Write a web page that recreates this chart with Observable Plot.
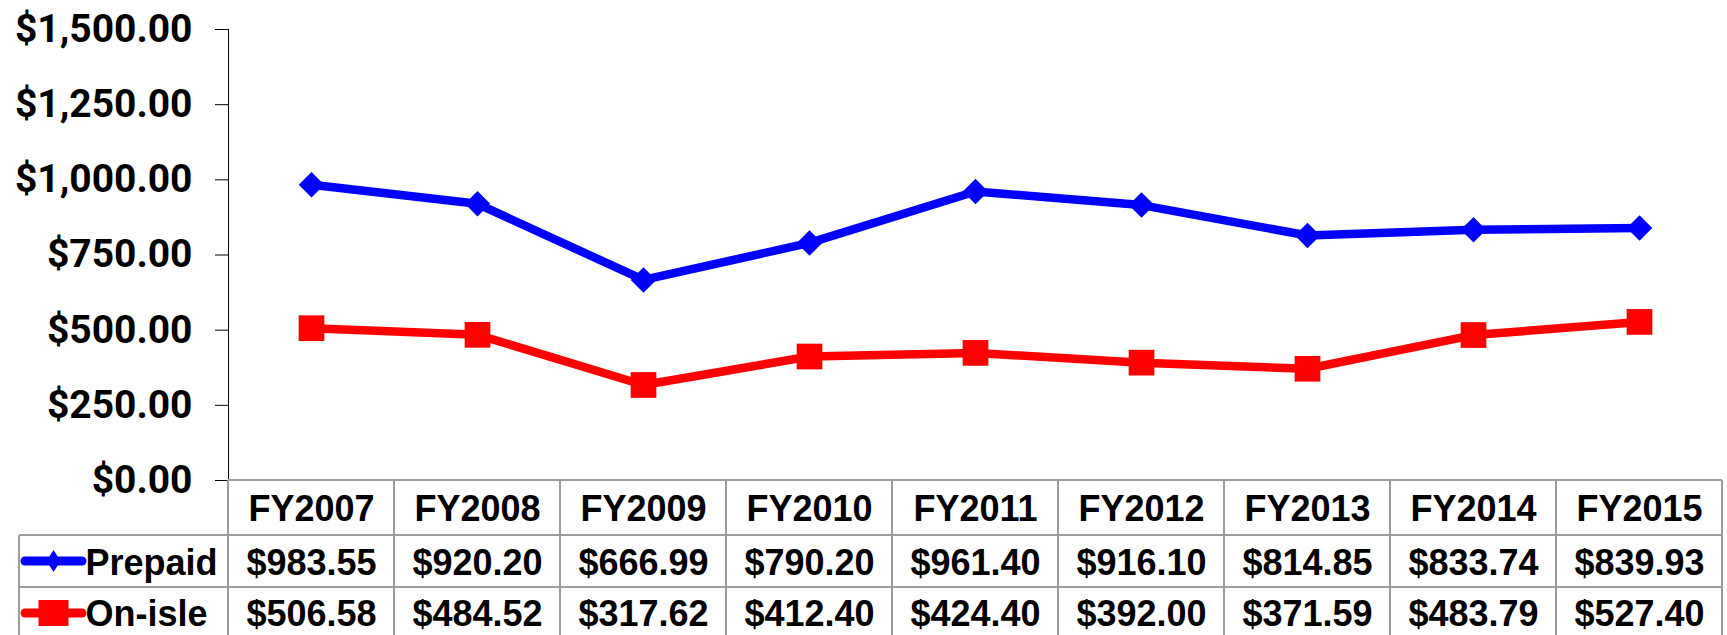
<!DOCTYPE html>
<html>
<head>
<meta charset="utf-8">
<script src="https://cdn.jsdelivr.net/npm/d3@7"></script>
<script src="https://cdn.jsdelivr.net/npm/@observablehq/plot@0.6"></script>
<style>
  html, body { margin: 0; padding: 0; background: #fff; }
  #chart svg g[aria-label^="y-axis"] text {
    font-family: Roboto, sans-serif !important;
    font-weight: 700 !important;
    font-size: 39px !important;
  }
</style>
</head>
<body>
<div id="chart"></div>
<script>
const years = ["FY2007", "FY2008", "FY2009", "FY2010", "FY2011", "FY2012", "FY2013", "FY2014", "FY2015"];
const seriesNames = ["Prepaid", "On-isle"];
const prepaid = [983.55, 920.20, 666.99, 790.20, 961.40, 916.10, 814.85, 833.74, 839.93];
const onIsle = [506.58, 484.52, 317.62, 412.40, 424.40, 392.00, 371.59, 483.79, 527.40];
const yTicks = [0, 250, 500, 750, 1000, 1250, 1500];
const colors = ["#0000ff", "#ff0000"];

const money = d3.format("$,.2f");
const prepaidRows = years.map((year, i) => ({year, value: prepaid[i]}));
const onIsleRows = years.map((year, i) => ({year, value: onIsle[i]}));

const gridColor = "#9c9c9c";
const tableFont = "Liberation Sans, Arial, sans-serif";
const rowH = [55, 52, 52];

// table grid + legend swatches, placed from the x scale
function tableGrid(index, scales, values, dims) {
  const x = scales.x;
  const centers = years.map(d => x(d));
  const half = (centers[1] - centers[0]) / 2;
  const edges = [centers[0] - half, ...centers.map(c => c + half)];
  const top = dims.height - dims.marginBottom;
  const rows = [top];
  rowH.forEach(h => rows.push(rows[rows.length - 1] + h));
  const left = 19;
  const right = edges[edges.length - 1];
  const g = d3.create("svg:g");
  const lines = g.append("g").attr("stroke", gridColor).attr("stroke-width", 2).attr("fill", "none");
  lines.append("line").attr("x1", edges[0]).attr("x2", right).attr("y1", rows[0]).attr("y2", rows[0]);
  for (let r = 1; r < rows.length; ++r) {
    lines.append("line").attr("x1", left).attr("x2", right).attr("y1", rows[r]).attr("y2", rows[r]);
  }
  edges.forEach(e => lines.append("line").attr("x1", e).attr("x2", e).attr("y1", rows[0]).attr("y2", rows[3]));
  lines.append("line").attr("x1", left).attr("x2", left).attr("y1", rows[1]).attr("y2", rows[3]);

  // legend swatches
  const sx0 = left + 6, sx1 = left + 63, scx = (sx0 + sx1) / 2;
  seriesNames.forEach((name, i) => {
    const cy = (rows[i + 1] + rows[i + 2]) / 2;
    g.append("line").attr("x1", sx0).attr("x2", sx1).attr("y1", cy).attr("y2", cy)
      .attr("stroke", colors[i]).attr("stroke-width", 9).attr("stroke-linecap", "round");
    if (i === 0) {
      g.append("path").attr("d", `M${scx},${cy - 11}L${scx + 7},${cy}L${scx},${cy + 11}L${scx - 7},${cy}Z`).attr("fill", colors[i]);
    } else {
      g.append("rect").attr("x", scx - 15).attr("y", cy - 13).attr("width", 30).attr("height", 26).attr("fill", colors[i]);
    }
  });
  return g.node();
}

const textCommon = {fontFamily: tableFont, fontWeight: "bold", fontSize: 36, fill: "black", lineAnchor: "middle"};

const plot = Plot.plot({
  width: 1727,
  height: 635,
  marginTop: 29,
  marginBottom: 155,
  marginLeft: 228,
  marginRight: 5,
  style: {fontFamily: "Roboto, sans-serif", fontSize: "39px", fontWeight: "bold", color: "black", background: "white"},
  x: {type: "point", domain: years, padding: 0.5, axis: null},
  y: {domain: [0, 1500], ticks: yTicks, tickFormat: money, tickSize: 13, tickPadding: 23, label: null, line: true},
  marks: [
    tableGrid,
    Plot.line(prepaidRows, {x: "year", y: "value", stroke: colors[0], strokeWidth: 8.5}),
    Plot.line(onIsleRows, {x: "year", y: "value", stroke: colors[1], strokeWidth: 8.5}),
    Plot.dot(prepaidRows, {x: "year", y: "value", symbol: "diamond2", r: 11.5, fill: colors[0], stroke: "none"}),
    Plot.dot(onIsleRows, {x: "year", y: "value", symbol: "square", r: 14.5, fill: colors[1], stroke: "none"}),
    Plot.text(years, {x: d => d, text: d => d, frameAnchor: "bottom", dy: 29, ...textCommon}),
    Plot.text(prepaidRows, {x: "year", text: d => money(d.value), frameAnchor: "bottom", dy: 82.5, ...textCommon}),
    Plot.text(onIsleRows, {x: "year", text: d => money(d.value), frameAnchor: "bottom", dy: 134, ...textCommon}),
    Plot.text([seriesNames[0]], {text: d => d, frameAnchor: "bottom-left", dx: -143, dy: 82.5, textAnchor: "start", ...textCommon}),
    Plot.text([seriesNames[1]], {text: d => d, frameAnchor: "bottom-left", dx: -143, dy: 134, textAnchor: "start", ...textCommon})
  ]
});
document.getElementById("chart").appendChild(plot);
</script>
</body>
</html>
